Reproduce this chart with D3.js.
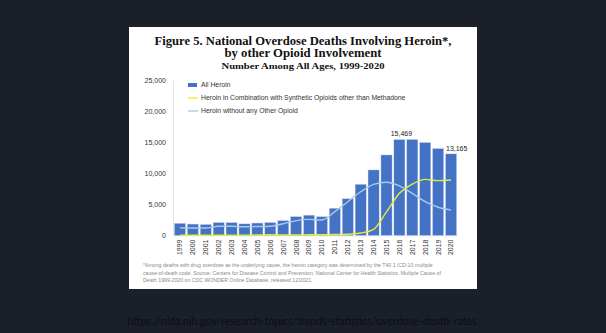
<!DOCTYPE html>
<html>
<head>
<meta charset="utf-8">
<script src="https://cdn.jsdelivr.net/npm/d3@7"></script>
<style>
  html, body { margin: 0; padding: 0; background: #1b1f2a; }
  svg { display: block; }
</style>
</head>
<body>
<svg id="chart" width="606" height="333"></svg>
<script>
// Heroin overdose deaths, 1999-2020
const years = ["1999","2000","2001","2002","2003","2004","2005","2006","2007","2008","2009","2010",
               "2011","2012","2013","2014","2015","2016","2017","2018","2019","2020"];
const allHeroin = [1960,1842,1779,2089,2080,1878,2009,2088,2399,3041,3278,3036,
                   4397,5925,8257,10574,12989,15469,15482,14996,14019,13165];
const withSynthetic = [30,35,40,45,55,60,70,110,70,80,110,130,
                       160,200,400,1000,3800,6800,8300,9050,8850,8950];
const withoutOther = [1250,1200,1200,1500,1500,1400,1450,1500,1900,2400,2600,2500,
                      3850,5450,7050,8250,8600,8000,6800,5450,4550,4100];
const yTicks = [0,5000,10000,15000,20000,25000];
const legendLabels = ["All Heroin",
  "Heroin in Combination with Synthetic Opioids other than Methadone",
  "Heroin without any Other Opioid"];
const callouts = [{year: "2016", value: 15469}, {year: "2020", value: 13165}];

const svg = d3.select("#chart");
const sans = "'Liberation Sans', Arial, sans-serif";
const serif = "'Liberation Serif', 'Times New Roman', serif";

// slide panel
svg.append("rect").attr("x", 129).attr("y", 27).attr("width", 348).attr("height", 262)
  .attr("fill", "#ffffff");

// titles
const titles = [
  {t: "Figure 5. National Overdose Deaths Involving Heroin*,", y: 44.5, size: 11.5, w: 297},
  {t: "by other Opioid Involvement", y: 57.3, size: 11.5, w: 157},
  {t: "Number Among All Ages, 1999-2020", y: 68.6, size: 9, w: 163}
];
svg.selectAll("text.title").data(titles).join("text")
  .attr("class", "title")
  .attr("x", 303).attr("y", d => d.y)
  .attr("text-anchor", "middle")
  .attr("font-family", serif).attr("font-weight", "bold")
  .attr("font-size", d => d.size)
  .attr("textLength", d => d.w).attr("lengthAdjust", "spacingAndGlyphs")
  .attr("fill", "#111")
  .text(d => d.t);

// scales
const x = d3.scaleBand().domain(years).range([173.5, 457.5]).paddingInner(0.14).paddingOuter(0.07);
const y = d3.scaleLinear().domain([0, 25000]).range([235.5, 80.5]);

// y axis
const yAxis = svg.append("g").attr("transform", "translate(173,0)")
  .call(d3.axisLeft(y).tickValues(yTicks).tickSize(0).tickPadding(7).tickFormat(d3.format(",")));
yAxis.select(".domain").attr("stroke", "#dedede").attr("stroke-width", 0.8);
yAxis.selectAll("text").attr("font-family", sans).attr("font-size", 7).attr("fill", "#333");

// x axis
const xAxis = svg.append("g").attr("transform", "translate(0,235.5)")
  .call(d3.axisBottom(x).tickSize(0).tickPadding(0));
xAxis.select(".domain").attr("stroke", "#dedede").attr("stroke-width", 0.6);
xAxis.selectAll("text")
  .attr("font-family", sans).attr("font-size", 7).attr("fill", "#333")
  .attr("transform", "rotate(-90)")
  .attr("text-anchor", "end")
  .attr("x", -4).attr("y", 0).attr("dy", "0.35em");

// bars
svg.append("g").selectAll("rect").data(years).join("rect")
  .attr("x", d => x(d))
  .attr("width", x.bandwidth())
  .attr("y", (d, i) => y(allHeroin[i]))
  .attr("height", (d, i) => y(0) - y(allHeroin[i]))
  .attr("fill", "#4472c4")
  .attr("stroke", "#c9d6ef").attr("stroke-width", 0.4);

// lines
const line = d3.line()
  .x((d, i) => x(years[i]) + x.bandwidth() / 2)
  .y(d => y(d))
  .curve(d3.curveMonotoneX);
svg.append("path").datum(withoutOther)
  .attr("d", line).attr("fill", "none")
  .attr("stroke", "#a8cbe6").attr("stroke-width", 1.4);
svg.append("path").datum(withSynthetic)
  .attr("d", line).attr("fill", "none")
  .attr("stroke", "#e4ee3a").attr("stroke-width", 1.4);

// value callouts
svg.append("text")
  .attr("x", x(callouts[0].year) + x.bandwidth() / 2 + 2)
  .attr("y", y(callouts[0].value) - 4)
  .attr("text-anchor", "middle")
  .attr("font-family", sans).attr("font-size", 7).attr("fill", "#222")
  .text(d3.format(",")(callouts[0].value));
svg.append("text")
  .attr("x", x(callouts[1].year) + 0.5)
  .attr("y", y(callouts[1].value) - 3)
  .attr("font-family", sans).attr("font-size", 7).attr("fill", "#222")
  .text(d3.format(",")(callouts[1].value));

// legend
const legendColors = ["#4472c4", "#e4ee3a", "#a8cbe6"];
const lg = svg.append("g");
legendLabels.forEach((lab, i) => {
  const ly = 85 + i * 13;
  if (i === 0) {
    lg.append("rect").attr("x", 188).attr("y", ly - 2).attr("width", 9).attr("height", 4)
      .attr("fill", legendColors[i]);
  } else {
    lg.append("line").attr("x1", 188).attr("x2", 198).attr("y1", ly).attr("y2", ly)
      .attr("stroke", legendColors[i]).attr("stroke-width", 1.4);
  }
  lg.append("text").attr("x", 201).attr("y", ly).attr("dy", "0.35em")
    .attr("font-family", sans).attr("font-size", 6.8).attr("fill", "#333")
    .text(lab);
});

// footnote
const notes = [
  "*Among deaths with drug overdose as the underlying cause, the heroin category was determined by the T40.1 ICD-10 multiple",
  "cause-of-death code. Source: Centers for Disease Control and Prevention, National Center for Health Statistics. Multiple Cause of",
  "Death 1999-2020 on CDC WONDER Online Database, released 12/2021."
];
svg.selectAll("text.note").data(notes).join("text")
  .attr("class", "note")
  .attr("x", 143).attr("y", (d, i) => 265.5 + i * 7.5).attr("dy", "0.35em")
  .attr("font-family", sans).attr("font-size", 5.2).attr("fill", "#8a8a8a")
  .text(d => d);

// source link below the panel
svg.append("text")
  .attr("x", 302).attr("y", 321).attr("dy", "0.35em")
  .attr("text-anchor", "middle")
  .attr("font-family", "Lato, 'Open Sans', sans-serif").attr("font-size", 10.5)
  .attr("fill", "#0c0e13")
  .attr("textLength", 349).attr("lengthAdjust", "spacingAndGlyphs")
  .text("https://nida.nih.gov/research-topics/trends-statistics/overdose-death-rates");
</script>
</body>
</html>
